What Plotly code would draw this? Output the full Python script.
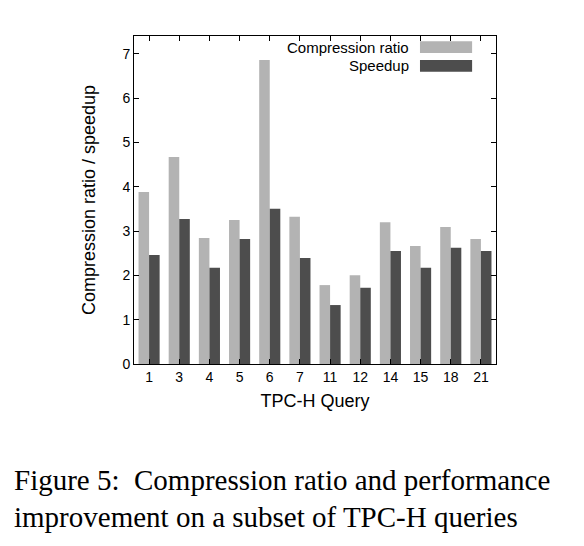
import plotly.graph_objects as go

queries = ["1", "3", "4", "5", "6", "7", "11", "12", "14", "15", "18", "21"]
compression_ratio = [3.88, 4.67, 2.84, 3.25, 6.86, 3.32, 1.78, 2.0, 3.2, 2.66, 3.09, 2.82]
speedup = [2.46, 3.27, 2.17, 2.82, 3.5, 2.39, 1.33, 1.72, 2.55, 2.17, 2.62, 2.55]
light, dark = "#b3b3b3", "#4d4d4d"

fig = go.Figure()
fig.add_bar(x=queries, y=compression_ratio, name="Compression ratio", marker_color=light, marker_line_width=0)
fig.add_bar(x=queries, y=speedup, name="Speedup", marker_color=dark, marker_line_width=0)

font = dict(family="Liberation Sans, Arial", size=15, color="black")
tfont = dict(family="Liberation Sans, Arial", size=14, color="black")
fig.update_layout(
    width=584, height=546, barmode="group", bargap=0.3, bargroupgap=0,
    plot_bgcolor="white", paper_bgcolor="white", showlegend=False,
    margin=dict(l=126, r=96, t=28, b=190), font=font,
    xaxis=dict(type="category", showline=True, mirror="ticks", linecolor="black", linewidth=1,
               ticks="inside", ticklen=5, tickcolor="black", tickfont=tfont,
               title=dict(text="TPC-H Query", standoff=10)),
    yaxis=dict(range=[0, 7.4], dtick=1, showline=True, mirror="ticks", linecolor="black", linewidth=1,
               ticks="inside", ticklen=5, tickcolor="black", showgrid=False, zeroline=False, tickfont=tfont,
               title=dict(text="Compression ratio / speedup", standoff=22)),
)
for i, (lab, col) in enumerate([("Compression ratio", light), ("Speedup", dark)]):
    y = 0.966 - i * 0.057
    fig.add_annotation(xref="paper", yref="paper", x=0.765, y=y, text=lab, showarrow=False,
                       xanchor="right", yanchor="middle", font=font)
    fig.add_shape(type="rect", xref="paper", yref="paper", x0=0.79, x1=0.934, y0=y - 0.018, y1=y + 0.018,
                  fillcolor=col, line_width=0)
cap = dict(family="Liberation Serif, Times New Roman", size=29, color="black")
fig.add_annotation(xref="paper", yref="paper", x=-0.337, y=-0.354, text="Figure 5:  Compression ratio and performance",
                   showarrow=False, xanchor="left", yanchor="middle", font=cap)
fig.add_annotation(xref="paper", yref="paper", x=-0.337, y=-0.466, text="improvement on a subset of TPC-H queries",
                   showarrow=False, xanchor="left", yanchor="middle", font=cap)
fig.write_html("out.html")
